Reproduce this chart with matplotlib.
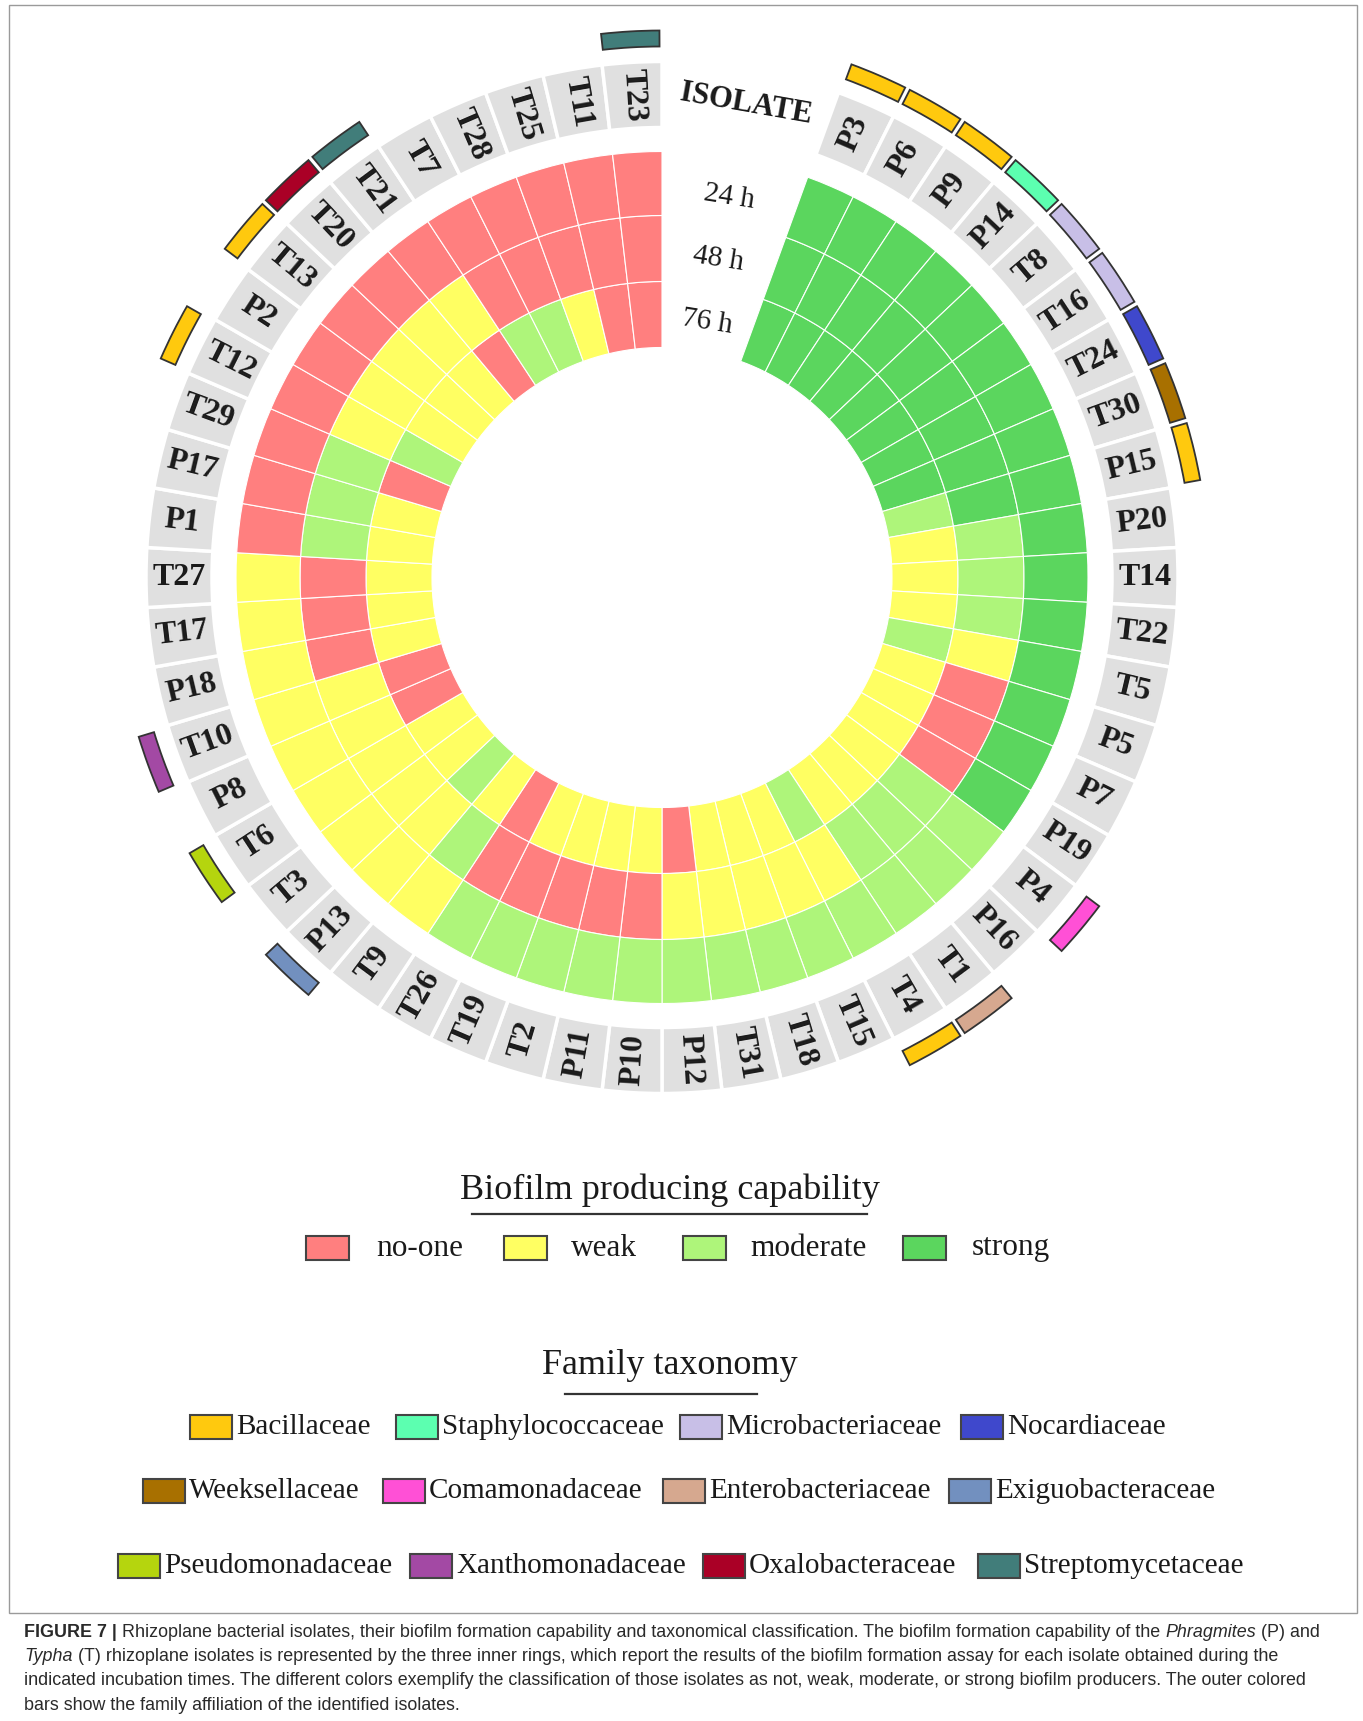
import numpy as np
import matplotlib
matplotlib.use('Agg')
import matplotlib.pyplot as plt
from matplotlib.patches import Rectangle

# isolates, clockwise from the gap at the top
isolates = ['P3', 'P6', 'P9', 'P14', 'T8', 'T16', 'T24', 'T30', 'P15', 'P20',
            'T14', 'T22', 'T5', 'P5', 'P7', 'P19', 'P4', 'P16', 'T1', 'T4',
            'T15', 'T18', 'T31', 'P12', 'P10', 'P11', 'T2', 'T19', 'T26', 'T9',
            'P13', 'T3', 'T6', 'P8', 'T10', 'P18', 'T17', 'T27', 'P1', 'P17',
            'T29', 'T12', 'P2', 'T13', 'T20', 'T21', 'T7', 'T28', 'T25', 'T11', 'T23']

# N = no-one, W = weak, M = moderate, S = strong
h24 = 'S S S S S S S S S S S S S S S S M M M M M M M M M M M M M W W W W W W W W W N N N N N N N N N N N N N'.split()
h48 = 'S S S S S S S S S M M M W N N N M M M W W W W W N N N N N M W W W W W N N N M M M W W W W W N N N N N'.split()
h76 = 'S S S S S S S S M W W W M W W W W W W M W W W N W W W W N W M W W N N W W W W W N M W W W N M M W N N'.split()

levels = ['N', 'W', 'M', 'S']
level_names = ['no-one', 'weak', 'moderate', 'strong']
level_colors = {'N': '#ff7f7f', 'W': '#ffff62', 'M': '#aef57a', 'S': '#5bd65e'}

family = {'P3': 'Bacillaceae', 'P6': 'Bacillaceae', 'P9': 'Bacillaceae',
          'P14': 'Staphylococcaceae', 'T8': 'Microbacteriaceae', 'T16': 'Microbacteriaceae',
          'T24': 'Nocardiaceae', 'T30': 'Weeksellaceae', 'P15': 'Bacillaceae',
          'P4': 'Comamonadaceae', 'T1': 'Enterobacteriaceae', 'T4': 'Bacillaceae',
          'P13': 'Exiguobacteraceae', 'T6': 'Pseudomonadaceae', 'T10': 'Xanthomonadaceae',
          'T12': 'Bacillaceae', 'T13': 'Bacillaceae', 'T20': 'Oxalobacteraceae',
          'T21': 'Streptomycetaceae', 'T23': 'Streptomycetaceae'}

family_names = ['Bacillaceae', 'Staphylococcaceae', 'Microbacteriaceae', 'Nocardiaceae',
                'Weeksellaceae', 'Comamonadaceae', 'Enterobacteriaceae', 'Exiguobacteraceae',
                'Pseudomonadaceae', 'Xanthomonadaceae', 'Oxalobacteraceae', 'Streptomycetaceae']
family_colors = ['#ffc90e', '#5cffb0', '#c8bfe7', '#3f48cc',
                 '#a87000', '#ff50d6', '#d6a88f', '#7290bf',
                 '#b5d50e', '#a349a4', '#aa0026', '#417d7a']
fam_col = dict(zip(family_names, family_colors))

W, H = 1363, 1721
fig = plt.figure(figsize=(W / 100, H / 100), dpi=100)
fig.patch.set_facecolor('white')

serif = 'Liberation Serif'
sans = 'Liberation Sans'
ink = '#1a1a1a'

# polar axes, 1 radial unit = 1 pixel
cx, cy, R = 662, 577.5, 575
ax = fig.add_axes([(cx - R) / W, (H - cy - R) / H, 2 * R / W, 2 * R / H], projection='polar')
ax.set_theta_zero_location('N')
ax.set_theta_direction(-1)
ax.set_ylim(0, R)
ax.set_axis_off()

n = len(isolates)
gap = 20.0
step = (360.0 - gap) / n
theta_deg = gap + step * (np.arange(n) + 0.5)
theta = np.deg2rad(theta_deg)
width = np.deg2rad(step)

# three inner rings: 76 h (inner), 48 h, 24 h (outer)
for vals, bottom, height in [(h76, 230, 66), (h48, 296, 66), (h24, 362, 64)]:
    ax.bar(theta, height, width=width, bottom=bottom,
           color=[level_colors[v] for v in vals], edgecolor='white', linewidth=0.8)

# isolate label ring
ax.bar(theta, 66, width=width, bottom=450, color='#e0e0e0', edgecolor='white', linewidth=2.5)
for t, name in zip(theta_deg, isolates):
    rot = 90 - t if t < gap + step * 24 else 270 - t
    ax.text(np.deg2rad(t), 483, name, rotation=rot, rotation_mode='anchor',
            ha='center', va='center', fontsize=23, fontweight='bold',
            family=serif, color=ink)

# family bars
fam_iso = [k for k in isolates if k in family]
fam_idx = [isolates.index(k) for k in fam_iso]
ax.bar(theta[fam_idx], 16, width=width * 0.92, bottom=531,
       color=[fam_col[family[k]] for k in fam_iso], edgecolor='#333333', linewidth=1.3)

mid = np.deg2rad(gap / 2)
ax.text(mid, 481, 'ISOLATE', rotation=-10, rotation_mode='anchor', ha='center', va='center',
        fontsize=22, fontweight='bold', family=serif, color=ink)
for lab, r in [('24 h', 386), ('48 h', 323), ('76 h', 259)]:
    ax.text(mid, r, lab, rotation=-9, rotation_mode='anchor', ha='center', va='center',
            fontsize=21, family=serif, color=ink)

# overlay in pixel coordinates for legends, frame and caption
ov = fig.add_axes([0, 0, 1, 1])
ov.set_xlim(0, W)
ov.set_ylim(H, 0)
ov.set_axis_off()

ov.add_patch(Rectangle((9, 5), 1348, 1608, fill=False, edgecolor='#9a9a9a', linewidth=1))

# biofilm legend
ov.text(670, 1190, 'Biofilm producing capability', ha='center', va='center',
        fontsize=26, family=serif, color=ink)
ov.plot([472, 867], [1214, 1214], color='#333333', linewidth=1.6)
box_x = [306, 504, 683, 903]
text_x = [376, 571, 750, 972]
for lv, nm, bx, tx in zip(levels, level_names, box_x, text_x):
    ov.add_patch(Rectangle((bx, 1236), 43, 24, facecolor=level_colors[lv],
                           edgecolor='#444444', linewidth=1.5))
    ov.text(tx, 1248, nm, ha='left', va='center', fontsize=22.5, family=serif, color=ink)

# family legend
ov.text(670, 1366, 'Family taxonomy', ha='center', va='center',
        fontsize=26, family=serif, color=ink)
ov.plot([565, 757], [1394, 1394], color='#333333', linewidth=1.6)
fam_box_x = [190, 396, 680, 961, 143, 383, 663, 949, 118, 410, 703, 978]
fam_row_y = [1427, 1427, 1427, 1427, 1491, 1491, 1491, 1491, 1566, 1566, 1566, 1566]
for nm, c, bx, by in zip(family_names, family_colors, fam_box_x, fam_row_y):
    ov.add_patch(Rectangle((bx, by - 12), 42, 24, facecolor=c,
                           edgecolor='#444444', linewidth=1.5))
    ov.text(bx + 46, by, nm, ha='left', va='center', fontsize=21, family=serif, color=ink)

# caption
cap_lines = [
    [('FIGURE 7 |', 'bold', True),
     ('Rhizoplane bacterial isolates, their biofilm formation capability and taxonomical '
      'classification. The biofilm formation capability of the', 'normal', True),
     ('Phragmites', 'italic', True), ('(P) and', 'normal', False)],
    [('Typha', 'italic', True),
     ('(T) rhizoplane isolates is represented by the three inner rings, which report the results '
      'of the biofilm formation assay for each isolate obtained during the', 'normal', False)],
    [('indicated incubation times. The different colors exemplify the classification of those '
      'isolates as not, weak, moderate, or strong biofilm producers. The outer colored', 'normal', False)],
    [('bars show the family affiliation of the identified isolates.', 'normal', False)],
]
cap_y = [1637, 1661, 1685, 1710]
renderer = fig.canvas.get_renderer()


def draw_caption(size):
    arts = []
    probe = [ov.text(0, 0, 'x x', fontsize=size, family=sans),
             ov.text(0, 0, 'xx', fontsize=size, family=sans)]
    sp = probe[0].get_window_extent(renderer).width - probe[1].get_window_extent(renderer).width
    for p in probe:
        p.remove()
    widths = []
    for runs, y in zip(cap_lines, cap_y):
        x = 24
        for txt, style, space in runs:
            t = ov.text(x, y, txt, fontsize=size, family=sans, va='baseline', ha='left',
                        fontweight='bold' if style == 'bold' else 'normal',
                        fontstyle='italic' if style == 'italic' else 'normal',
                        color='#2a2a2a')
            arts.append(t)
            x += t.get_window_extent(renderer).width + (sp if space else 0)
        widths.append(x - 24)
    return arts, widths


arts, widths = draw_caption(12)
size = 12 * 1300 / widths[0]
for a in arts:
    a.remove()
draw_caption(size)

fig.savefig('out.png', dpi=100, facecolor='white')
